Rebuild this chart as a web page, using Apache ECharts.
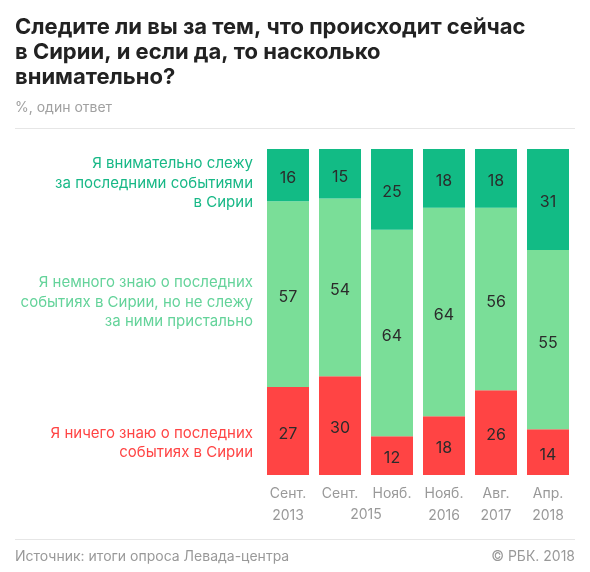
<!DOCTYPE html>
<html><head><meta charset="utf-8">
<script src="https://cdn.jsdelivr.net/npm/echarts@6/dist/echarts.min.js"></script>
<style>html,body{margin:0;padding:0;background:#fff}#c{width:590px;height:572px}</style>
</head><body><div id="c"></div>
<script>
const months = ['Сент.', 'Сент.', 'Нояб.', 'Нояб.', 'Авг.', 'Апр.'];
const years = ['2013', '2015', '2015', '2016', '2017', '2018'];
const attentive = [16, 15, 25, 18, 18, 31];
const someKnow = [57, 54, 64, 64, 56, 55];
const noKnow = [27, 30, 12, 18, 26, 14];
const seriesNames = [
  'Я внимательно слежу\nза последними событиями\nв Сирии',
  'Я немного знаю о последних\nсобытиях в Сирии, но не слежу\nза ними пристально',
  'Я ничего знаю о последних\nсобытиях в Сирии'
];

const FONT = 'Inter, "Noto Sans", sans-serif';
const totals = months.map((m, i) => attentive[i] + someKnow[i] + noKnow[i]);
const norm = arr => arr.map((v, i) => ({ value: v / totals[i] * 100, raw: v }));

function sharedYear(i) {
  return (i > 0 && years[i - 1] === years[i]) || (i < years.length - 1 && years[i + 1] === years[i]);
}

const chart = echarts.init(document.getElementById('c'), null, { renderer: 'canvas' });
const labelCfg = {
  show: true, position: 'inside', offset: [0, 3], color: '#2b2b2b', fontSize: 16, fontFamily: FONT,
  formatter: p => p.data.raw
};
function mk(name, arr, color) {
  return {
    name, type: 'bar', stack: 'all', barWidth: 42, data: norm(arr),
    itemStyle: { color }, label: labelCfg, emphasis: { disabled: true }
  };
}
const option = {
  animation: false,
  grid: { left: 262, right: 16, top: 149, bottom: 97 },
  xAxis: {
    type: 'category', data: months,
    axisLine: { show: false }, axisTick: { show: false },
    axisLabel: {
      color: '#999', fontSize: 14, fontFamily: FONT, lineHeight: 22, margin: 8,
      formatter: (v, i) => sharedYear(i) ? v + '\n ' : v + '\n' + years[i]
    }
  },
  yAxis: { type: 'value', min: 0, max: 100, show: false },
  series: [
    mk(seriesNames[2], noKnow, '#ff4444'),
    mk(seriesNames[1], someKnow, '#7ade98'),
    mk(seriesNames[0], attentive, '#12bb85')
  ]
};
chart.setOption(option);

const g = [
  { type: 'text', style: { text: 'Следите ли вы за тем, что происходит сейчас\nв Сирии, и если да, то насколько\nвнимательно?', x: 15, y: 15, fill: '#222', font: 'bold 22px ' + FONT, lineHeight: 25 } },
  { type: 'text', style: { text: '%, один ответ', x: 15, y: 108, fill: '#a0a0a0', font: '14px ' + FONT, textVerticalAlign: 'middle' } },
  { type: 'line', shape: { x1: 15, y1: 128.5, x2: 575, y2: 128.5 }, style: { stroke: '#e6e6e6', lineWidth: 1 } },
  { type: 'line', shape: { x1: 15, y1: 539.5, x2: 575, y2: 539.5 }, style: { stroke: '#e6e6e6', lineWidth: 1 } },
  { type: 'text', style: { text: 'Источник: итоги опроса Левада-центра', x: 15, y: 557, fill: '#999', font: '14px ' + FONT, textVerticalAlign: 'middle' } },
  { type: 'text', style: { text: '© РБК. 2018', x: 575, y: 557, fill: '#999', font: '14px ' + FONT, textAlign: 'right', textVerticalAlign: 'middle' } },
  { type: 'text', style: { text: seriesNames[0], x: 253, y: 183, fill: '#17b886', font: '15px ' + FONT, textAlign: 'right', textVerticalAlign: 'middle', lineHeight: 19.5 } },
  { type: 'text', style: { text: seriesNames[1], x: 253, y: 302, fill: '#64d39a', font: '15px ' + FONT, textAlign: 'right', textVerticalAlign: 'middle', lineHeight: 19.5 } },
  { type: 'text', style: { text: seriesNames[2], x: 253, y: 443, fill: '#ff4444', font: '15px ' + FONT, textAlign: 'right', textVerticalAlign: 'middle', lineHeight: 19.5 } }
];
// shared year labels centered between their bars
for (let i = 0; i < years.length - 1; i++) {
  if (years[i] === years[i + 1]) {
    const a = chart.convertToPixel({ xAxisIndex: 0 }, i);
    const b = chart.convertToPixel({ xAxisIndex: 0 }, i + 1);
    g.push({ type: 'text', style: { text: years[i], x: (a + b) / 2, y: 515, fill: '#999', font: '14px ' + FONT, textAlign: 'center', textVerticalAlign: 'middle' } });
  }
}
chart.setOption({ graphic: g });
</script></body></html>
